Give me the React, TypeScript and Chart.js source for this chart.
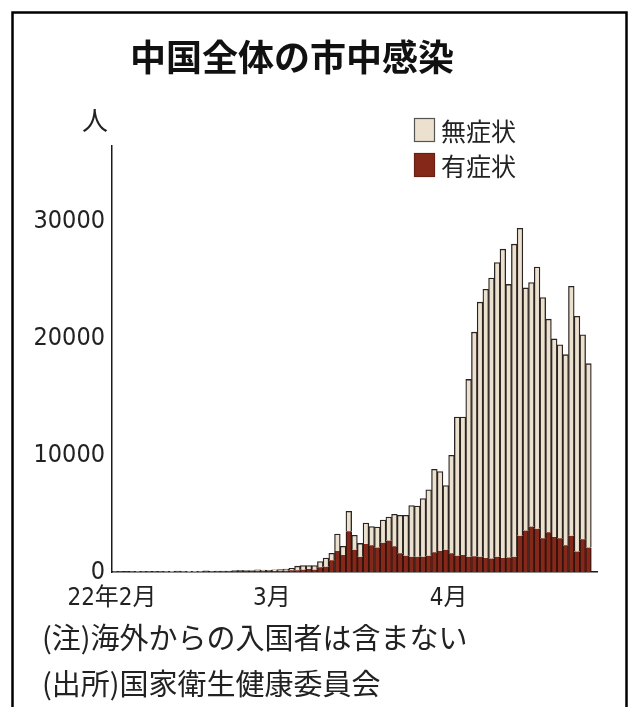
import React, { useEffect, useRef } from 'react';
import { Chart, registerables } from 'chart.js';

Chart.register(...registerables);

// Daily local infections in China, 2022-02-01 .. 2022-04-25 (index 0 = Feb 1)
const monthTickLabels: string[] = ['22年2月', '3月', '4月'];
const monthTickDayIndex: number[] = [0, 28, 59];
const yTickValues: number[] = [0, 10000, 20000, 30000];

const seriesLabels: string[] = ['無症状', '有症状'];

// 有症状 (symptomatic)
const symptomatic: number[] = [
  26, 18, 16, 21, 22, 37, 12, 20, 14, 21, 36, 41, 29, 36, 32, 24, 51, 34, 42, 45,
  48, 52, 58, 59, 62, 100, 84, 68,
  90, 100, 110, 140, 150, 200, 250, 200, 400, 450, 1000, 1800, 1450, 3500, 1900, 1300,
  2400, 2300, 2100, 2500, 2700, 2200, 1600, 1400, 1300, 1300, 1300, 1400, 1700, 1800, 1900,
  1600, 1400, 1450, 1300, 1350, 1300, 1200, 1150, 1300, 1200, 1250, 1300, 3100, 3550,
  3900, 3700, 2900, 3400, 3000, 2900, 2300, 3100, 1750, 2800, 2100,
];

// 無症状 (asymptomatic)
const asymptomatic: number[] = [
  10, 9, 8, 16, 18, 20, 15, 18, 26, 30, 22, 32, 24, 26, 19, 30, 40, 27, 29, 41,
  37, 60, 78, 54, 68, 85, 70, 80,
  90, 100, 140, 180, 350, 360, 310, 350, 500, 750, 600, 1450, 750, 1700, 1250, 1150,
  1800, 1600, 1750, 1950, 2000, 2750, 3250, 3450, 4400, 4350, 5000, 5650, 7100, 6800, 5500,
  8400, 11880, 11830, 15200, 19200, 21820, 23030, 24030, 25210, 26460, 23390, 26790, 26350, 20790,
  20900, 22420, 20620, 18260, 16970, 16560, 16320, 21370, 20150, 17520, 15750,
];

const BEIGE = '#ece0cf';
const RED = '#862819';
const CJK = "'Noto Sans CJK JP', sans-serif";
const NUM = "'Liberation Sans Narrow', 'DejaVu Sans Condensed', 'Noto Sans CJK JP', sans-serif";

const decorPlugin = {
  id: 'decor',
  beforeDraw(chart: any) {
    const ctx = chart.ctx;
    ctx.save();
    ctx.fillStyle = '#ffffff';
    ctx.fillRect(0, 0, chart.width, chart.height);
    ctx.restore();
  },
  afterDraw(chart: any) {
    const ctx = chart.ctx;
    ctx.save();
    // frame
    ctx.strokeStyle = '#000';
    ctx.lineWidth = 2.5;
    ctx.strokeRect(12.5, 12.5, 614, 730);
    // title
    ctx.fillStyle = '#111';
    ctx.textBaseline = 'middle';
    ctx.textAlign = 'center';
    ctx.font = `bold 36px ${CJK}`;
    ctx.fillText('中国全体の市中感染', 292, 57);
    // unit
    ctx.font = `26px ${CJK}`;
    ctx.fillStyle = '#222';
    ctx.fillText('人', 95, 120);
    // legend
    const items = [
      { label: seriesLabels[0], color: BEIGE, y: 130 },
      { label: seriesLabels[1], color: RED, y: 165 },
    ];
    ctx.textAlign = 'left';
    ctx.font = `25px ${CJK}`;
    for (const it of items) {
      ctx.fillStyle = it.color;
      ctx.fillRect(414, it.y - 12, 21, 24);
      ctx.strokeStyle = it.color === BEIGE ? '#555' : '#6a1f14';
      ctx.lineWidth = 1.2;
      ctx.strokeRect(414.5, it.y - 11.5, 20, 23);
      ctx.fillStyle = '#222';
      ctx.fillText(it.label, 441, it.y + 1);
    }
    // notes
    ctx.font = `29px ${CJK}`;
    ctx.fillStyle = '#222';
    ctx.fillText('(注)海外からの入国者は含まない', 42, 638);
    ctx.fillText('(出所)国家衛生健康委員会', 42, 684);
    ctx.restore();
  },
};

export default function App() {
  const ref = useRef<HTMLCanvasElement | null>(null);

  useEffect(() => {
    document.body.style.margin = '0';
    const canvas = ref.current;
    if (!canvas) return;
    const chart = new Chart(canvas, {
      type: 'bar',
      data: {
        datasets: [
          {
            label: seriesLabels[1],
            data: symptomatic.map((v, i) => ({ x: i, y: v })),
            backgroundColor: RED,
            borderColor: '#33130d',
            borderWidth: { left: 1.3, right: 1.3, top: 0, bottom: 0 },
            borderSkipped: false,
            barPercentage: 1,
            categoryPercentage: 1,
          },
          {
            label: seriesLabels[0],
            data: asymptomatic.map((v, i) => ({ x: i, y: v })),
            backgroundColor: BEIGE,
            borderColor: '#2a2420',
            borderWidth: { left: 1.3, right: 1.3, top: 1.3, bottom: 0 },
            borderSkipped: false,
            barPercentage: 1,
            categoryPercentage: 1,
          },
        ],
      } as any,
      options: {
        animation: false,
        responsive: false,
        maintainAspectRatio: false,
        layout: { padding: { top: 146, right: 32, left: 0, bottom: 0 } },
        plugins: {
          legend: { display: false },
          tooltip: { enabled: false },
          title: { display: false },
        },
        scales: {
          x: {
            type: 'linear',
            stacked: true,
            offset: false,
            min: -0.5,
            max: 84.5,
            grid: { display: false, drawTicks: false, offset: false },
            border: { display: true, color: '#1a1a1a', width: 1.5 },
            afterBuildTicks: (s: any) => {
              s.ticks = monthTickDayIndex.map((d) => ({ value: d - 0.5 }));
            },
            afterFit: (s: any) => {
              s.height = 707 - 572;
            },
            ticks: {
              autoSkip: false,
              maxRotation: 0,
              padding: 12,
              color: '#222',
              font: { family: NUM, size: 24 },
              callback: (v: any) => {
                const k = monthTickDayIndex.findIndex((d) => Math.abs(d - 0.5 - v) < 1e-6);
                return k >= 0 ? monthTickLabels[k] : '';
              },
            },
          },
          y: {
            stacked: true,
            min: 0,
            max: 36500,
            grid: { display: false, drawTicks: false },
            border: { display: true, color: '#1a1a1a', width: 1.5 },
            afterBuildTicks: (s: any) => {
              s.ticks = yTickValues.map((v) => ({ value: v }));
            },
            afterFit: (s: any) => {
              s.width = 112;
            },
            ticks: {
              padding: 7,
              color: '#222',
              font: { family: NUM, size: 25 },
              callback: (v: any) => String(v),
            },
          },
        },
      } as any,
      plugins: [decorPlugin],
    });
    return () => chart.destroy();
  }, []);

  return (
    <div style={{ width: 629, height: 707 }}>
      <canvas ref={ref} width={629} height={707} style={{ display: 'block' }} />
    </div>
  );
}
